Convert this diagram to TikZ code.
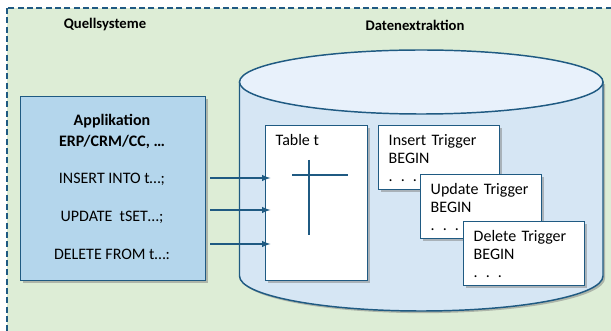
\documentclass[tikz,border=0pt]{standalone}
\usepackage{fontspec}
\setmainfont{Carlito}
\usepackage{tikz}
\usetikzlibrary{arrows,shadows}
\usetikzlibrary{positioning}
\definecolor{rahmen}{RGB}{31,90,130}
\definecolor{gruen}{RGB}{221,237,214}
\definecolor{appblau}{RGB}{180,214,236}
\definecolor{dbkoerper}{RGB}{214,230,244}
\definecolor{dbdeckel}{RGB}{232,241,251}
\tikzset{
    schatten/.style={
           drop shadow={shadow xshift=1.6pt, shadow yshift=-1.6pt,
                        opacity=0.45, fill=black!55},
           },
}
\tikzset{
    app/.style={
           rectangle,
           draw=rahmen, line width=1.1pt,
           fill=appblau,
           schatten,
           },
}
\tikzset{
    tabelle/.style={
           rectangle,
           draw=rahmen, line width=1.1pt,
           fill=white,
           schatten,
           },
}
\tikzset{
    trigger/.style={
           rectangle,
           draw=rahmen, line width=1.1pt,
           fill=white,
           schatten,
           anchor=north west,
           text width=75.75pt,
           inner xsep=7.5pt,
           minimum height=48pt,
           align=left,
           font=\fontsize{12}{13.6}\selectfont,
           },
}
\tikzset{
    pfeil/.style={
           -latex,
           draw=rahmen, line width=1.1pt,
           },
}

\begin{document}
\begin{tikzpicture}[x=0.75pt,y=-0.75pt,font=\fontsize{12}{13.6}\selectfont]
\useasboundingbox (0,0) rectangle (611,331);
\begin{scope}
\clip (0,0) rectangle (611,331);
\draw[rahmen, fill=gruen, line width=1.1pt, dash pattern=on 4.5pt off 2.5pt]
    (7,8) rectangle (630,350);
\end{scope}
% Ueberschriften
\node[font=\fontsize{11}{13}\selectfont\bfseries] (qs) at (105,25) {Quellsysteme};
\node[font=\fontsize{11}{13}\selectfont\bfseries] (de) at (415,25) {Datenextraktion};
% Quellsystem
\node[app, anchor=north west, minimum width=138.75pt, minimum height=138pt] (app) at (20,96) {};
\node[font=\fontsize{12}{13.6}\selectfont\bfseries] (t1) at (112,121) {Applikation};
\node[font=\fontsize{12}{13.6}\selectfont\bfseries] (t2) at (112,142) {ERP/CRM/CC, \dots};
\node (ins) at (112,179) {INSERT INTO t\dots;};
\node (upd) at (112,217) {UPDATE\ \ tSET\dots;};
\node (del) at (112,254) {DELETE FROM t\dots:};
% Datenbank
\fill[dbkoerper, schatten] (239.5,82) -- (239.5,276) arc[start angle=180, end angle=0, x radius=181.75, y radius=35]
    -- (603,82) -- cycle;
\draw[rahmen, line width=1.1pt] (239.5,82) -- (239.5,276) arc[start angle=180, end angle=0, x radius=181.75, y radius=35]
    -- (603,82);
\draw[rahmen, fill=dbdeckel, line width=1.1pt] (421.25,82) ellipse [x radius=181.75, y radius=32];
% Tabelle
\node[tabelle, anchor=north west, minimum width=76.5pt, minimum height=116.25pt] (tab) at (265,125) {};
\node[anchor=west] (tt) at (271,140) {Table t};
\coordinate (ko) at (309,160);
\coordinate (ku) at (309,235);
\coordinate (kl) at (292,175);
\coordinate (kr) at (348,175);
\draw[rahmen, line width=1.1pt] (ko) -- (ku);
\draw[rahmen, line width=1.1pt] (kl) -- (kr);
% Trigger
\node[trigger] (ti) at (378,125) {Insert Trigger\\BEGIN\\. . .};
\node[trigger] (tu) at (420,174) {Update Trigger\\BEGIN\\. . .};
\node[trigger] (td) at (463,221) {Delete Trigger\\BEGIN\\. . .};
% Pfeile
\draw[pfeil] ([xshift=3pt]app.east |- 0,178) -- ([xshift=4pt]tab.west |- 0,178);
\draw[pfeil] ([xshift=3pt]app.east |- 0,210) -- ([xshift=4pt]tab.west |- 0,210);
\draw[pfeil] ([xshift=3pt]app.east |- 0,244) -- ([xshift=4pt]tab.west |- 0,244);
\end{tikzpicture}
\end{document}
